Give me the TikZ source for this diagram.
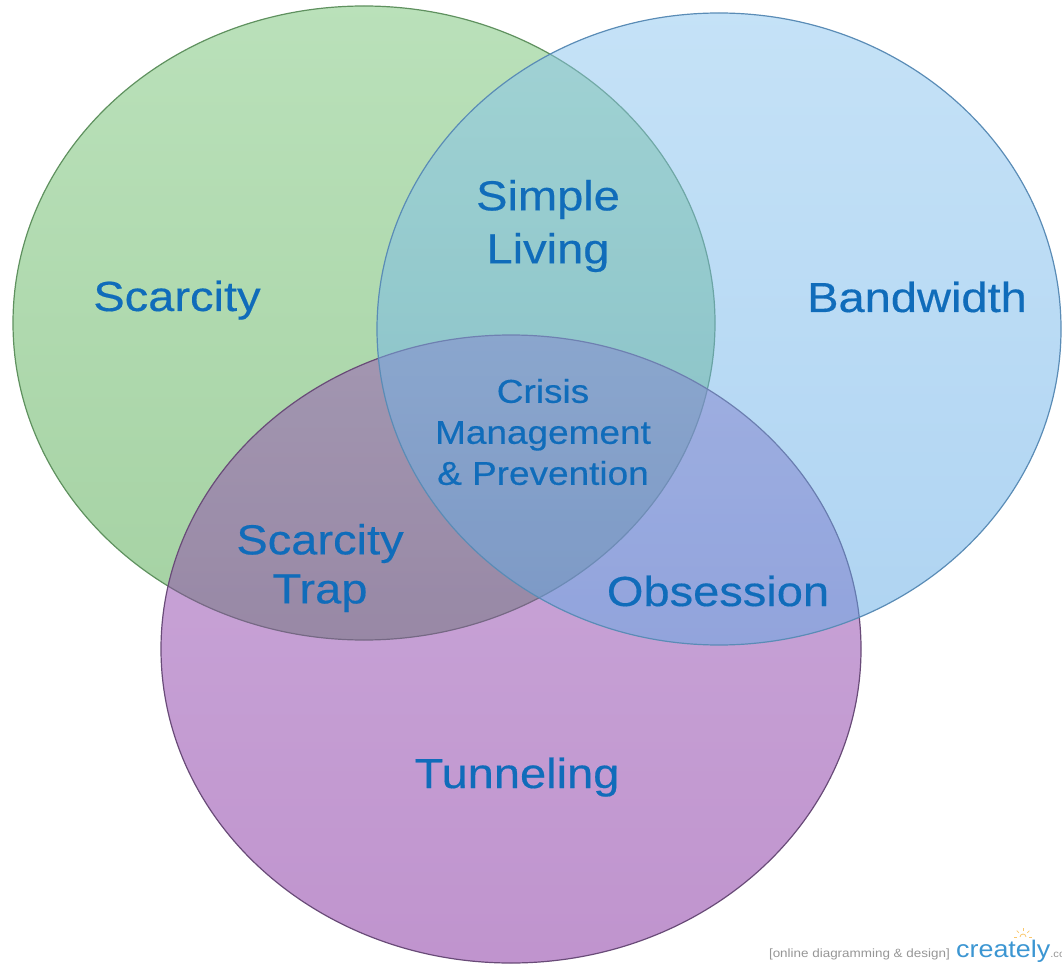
\documentclass[tikz,border=0pt]{standalone}
\usepackage{fontspec}
\setmainfont{Liberation Sans}[FakeStretch=1.12]
\newfontfamily\lblfont{Liberation Sans}[FakeStretch=1.12, FakeBold=0.4]
\definecolor{labelblue}{RGB}{16,108,186}
\definecolor{gtop}{RGB}{117,195,117}
\definecolor{gbot}{RGB}{75,165,71}
\definecolor{btop}{RGB}{139,197,239}
\definecolor{bbot}{RGB}{95,169,229}
\definecolor{ptop}{RGB}{151,85,181}
\definecolor{pbot}{RGB}{129,41,157}
\definecolor{gline}{RGB}{95,145,95}
\definecolor{bline}{RGB}{90,140,182}
\definecolor{pline}{RGB}{105,75,120}
\definecolor{wmgray}{RGB}{150,150,150}
\definecolor{wmblue}{RGB}{60,150,210}
\definecolor{wmsun}{RGB}{250,200,110}
\begin{document}
\begin{tikzpicture}[x=1pt,y=-1pt,
  biglbl/.style={text=labelblue, inner sep=0pt, font=\lblfont\fontsize{42}{50}\selectfont, align=center},
  smalllbl/.style={text=labelblue, inner sep=0pt, font=\lblfont\fontsize{33}{41}\selectfont, align=center},
  setfill/.style={fill opacity=0.5},
  setline/.style={line width=1.2pt}]
\useasboundingbox (0,0) rectangle (1062,965);
\begin{scope}
\clip (0,0) rectangle (1062,965);
% green set
\shade[setfill, top color=gtop, bottom color=gbot] (364,323) ellipse [x radius=351pt, y radius=317pt];
\draw[setline, gline] (364,323) ellipse [x radius=351pt, y radius=317pt];
% purple set
\shade[setfill, top color=ptop, bottom color=pbot] (511,649) ellipse [x radius=350pt, y radius=314pt];
\draw[setline, pline] (511,649) ellipse [x radius=350pt, y radius=314pt];
% blue set
\shade[setfill, top color=btop, bottom color=bbot] (719,329) ellipse [x radius=342pt, y radius=316pt];
\draw[setline, bline] (719,329) ellipse [x radius=342pt, y radius=316pt];

% labels
\node[biglbl, anchor=base] (scarcity) at (177,311) {Scarcity};
\node[biglbl, anchor=base] (bandwidth) at (917,312) {Bandwidth};
\node[biglbl, font=\lblfont\fontsize{42}{53}\selectfont] (simple) at (548,226) {Simple\\Living};
\node[smalllbl] (crisis) at (543,432) {Crisis\\Management\\\& Prevention};
\node[biglbl, font=\lblfont\fontsize{42}{49}\selectfont] (trap) at (320,568) {Scarcity\\Trap};
\node[biglbl, anchor=base] (obsession) at (718,606) {Obsession};
\node[biglbl, anchor=base] (tunneling) at (517,788) {Tunneling};

% watermark
\node[text=wmgray, inner sep=0pt, anchor=base east, font=\fontsize{12}{14}\selectfont] (wmtext) at (950,957) {[online diagramming \& design]};
\node[text=wmblue, inner sep=0pt, anchor=base west, font=\fontsize{24}{28}\selectfont] (wmlogo) at (956,957) {creately\textcolor{wmgray}{\fontsize{10}{12}\selectfont .com}};
\coordinate (sun) at (1023,937);
\draw[wmsun, line width=0.8pt] (sun) ++(-3,0) arc[start angle=180, end angle=0, radius=3pt];
\foreach \a in {0,45,90,135,180} {
  \draw[wmsun, line width=0.7pt] (sun) ++({6*cos(\a)},{-6*sin(\a)}) -- ++({3*cos(\a)},{-3*sin(\a)});
}
\end{scope}
\end{tikzpicture}
\end{document}
